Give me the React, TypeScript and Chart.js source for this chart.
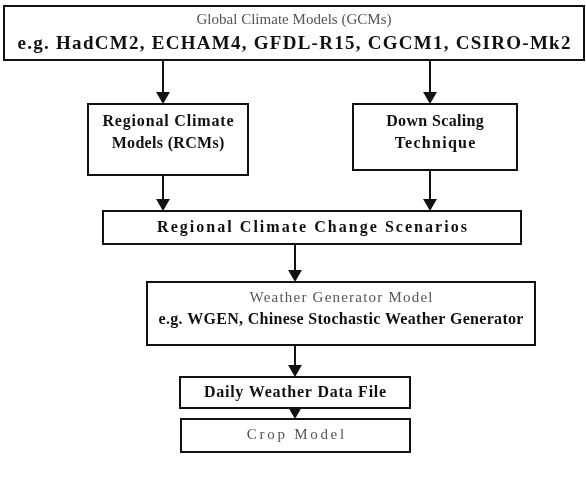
import React, { useEffect, useRef } from "react";
import { Chart, registerables } from "chart.js";

Chart.register(...registerables);

// ---- diagram content ----
const nodeLines: string[][] = [
  ["Global Climate Models (GCMs)", "e.g. HadCM2, ECHAM4, GFDL-R15, CGCM1, CSIRO-Mk2"],
  ["Regional Climate", "Models (RCMs)"],
  ["Down Scaling", "Technique"],
  ["Regional Climate Change Scenarios"],
  ["Weather Generator Model", "e.g. WGEN, Chinese Stochastic Weather Generator"],
  ["Daily Weather Data File"],
  ["Crop Model"],
];
const nodeLineBold: boolean[][] = [
  [false, true],
  [true, true],
  [true, true],
  [true],
  [false, true],
  [true],
  [false],
];
// arrows: [from node, to node]
const links: number[][] = [
  [0, 1],
  [0, 2],
  [1, 3],
  [2, 3],
  [3, 4],
  [4, 5],
  [5, 6],
];

// ---- layout (diagram units = pixels of a 586 x 477 sheet) ----
const W = 586;
const H = 477;
const boxes = [
  { x0: 4, y0: 6, x1: 584, y1: 60 },
  { x0: 88, y0: 104, x1: 248, y1: 175 },
  { x0: 353, y0: 104, x1: 517, y1: 170 },
  { x0: 103, y0: 211, x1: 521, y1: 244 },
  { x0: 147, y0: 282, x1: 535, y1: 345 },
  { x0: 180, y0: 377, x1: 410, y1: 408 },
  { x0: 181, y0: 419, x1: 410, y1: 452 },
];
// per line: center y, text width, font size
const lineStyle = [
  [{ y: 20, w: 195, s: 15 }, { y: 44, w: 554, s: 19 }],
  [{ y: 122, w: 132, s: 16 }, { y: 144, w: 113, s: 16 }],
  [{ y: 122, w: 98, s: 16 }, { y: 144, w: 82, s: 16 }],
  [{ y: 228, w: 312, s: 16 }],
  [{ y: 298, w: 184, s: 15 }, { y: 320, w: 365, s: 16 }],
  [{ y: 393, w: 183, s: 16 }],
  [{ y: 435, w: 100, s: 15 }],
];
const arrowX = [163, 430, 163, 430, 295, 295, 295];
const HEAD = 8;

const diagramPlugin = {
  id: "flowBoxes",
  afterDatasetsDraw(chart: any) {
    const { ctx, scales } = chart;
    const xs = scales.x;
    const ys = scales.y;
    ctx.save();
    boxes.forEach((b, i) => {
      const px0 = xs.getPixelForValue(b.x0);
      const px1 = xs.getPixelForValue(b.x1);
      const py0 = ys.getPixelForValue(b.y0);
      const py1 = ys.getPixelForValue(b.y1);
      ctx.lineWidth = 2;
      ctx.strokeStyle = "#111";
      ctx.strokeRect(px0, py0, px1 - px0, py1 - py0);
      const cx = (px0 + px1) / 2;
      nodeLines[i].forEach((txt, j) => {
        const st = lineStyle[i][j];
        const bold = nodeLineBold[i][j];
        ctx.font = `${bold ? "bold " : ""}${st.s}px "Liberation Serif", serif`;
        ctx.letterSpacing = "0px";
        const m = ctx.measureText(txt).width;
        const sp = Math.max(0, (st.w - m) / txt.length);
        ctx.letterSpacing = `${sp.toFixed(2)}px`;
        ctx.fillStyle = bold ? "#111" : "#555";
        ctx.textAlign = "center";
        ctx.textBaseline = "middle";
        ctx.fillText(txt, cx + sp / 2, ys.getPixelForValue(st.y));
      });
    });
    ctx.restore();
  },
};

export default function App() {
  const ref = useRef<HTMLCanvasElement>(null);
  useEffect(() => {
    document.body.style.margin = "0";
    if (!ref.current) return;
    const datasets = links.map(([a, b], k) => {
      const x = arrowX[k];
      return {
        label: `${a}-${b}`,
        data: [
          { x, y: boxes[a].y1 },
          { x, y: boxes[b].y0 - HEAD },
        ],
        showLine: true,
        borderColor: "#111",
        borderWidth: 2,
        pointRadius: [0, HEAD],
        pointHoverRadius: [0, HEAD],
        pointStyle: "triangle",
        rotation: 180,
        pointBackgroundColor: "#111",
        pointBorderColor: "#111",
        pointBorderWidth: 0,
        clip: false,
      };
    });
    const chart = new Chart(ref.current, {
      type: "scatter",
      data: { datasets: datasets as any },
      options: {
        responsive: false,
        animation: false,
        layout: { padding: 0, autoPadding: false },
        plugins: { legend: { display: false }, tooltip: { enabled: false } },
        scales: {
          x: { type: "linear", min: 0, max: W, display: false },
          y: { type: "linear", min: 0, max: H, reverse: true, display: false },
        },
      },
      plugins: [diagramPlugin],
    });
    return () => chart.destroy();
  }, []);
  return (
    <div style={{ width: W, height: H, background: "#fff" }}>
      <canvas ref={ref} width={W} height={H} />
    </div>
  );
}
